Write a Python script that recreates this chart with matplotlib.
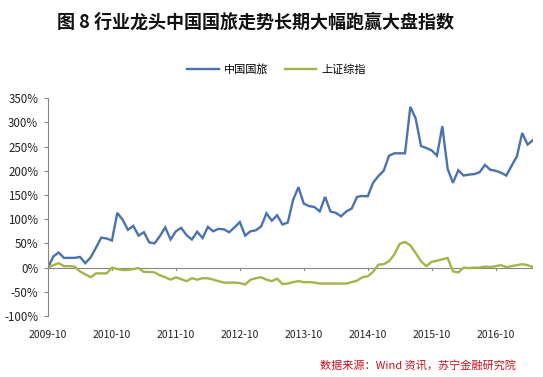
import numpy as np
import matplotlib
matplotlib.use('Agg')
import matplotlib.pyplot as plt
from matplotlib.ticker import FuncFormatter

plt.rcParams['font.family'] = ['Noto Sans CJK SC', 'DejaVu Sans']

# monthly cumulative returns (%), 2009-10 .. 2017-05
cits = [0, 23, 31, 20, 20, 20, 22, 9, 21, 41, 62, 60, 56, 113, 99, 78, 86, 66, 73, 52,
        50, 65, 83, 58, 75, 82, 67, 58, 74, 61, 84, 75, 80, 79, 73, 83, 94, 66, 75, 77,
        85, 112, 97, 108, 89, 93, 140, 166, 132, 127, 125, 116, 146, 116, 113, 106, 116, 122, 146, 148,
        147, 175, 189, 200, 231, 236, 236, 236, 332, 308, 251, 247, 242, 231, 292, 204, 175, 201, 190, 192,
        193, 197, 212, 202, 200, 196, 190, 210, 230, 278, 254, 263]
shci = [0, 5, 9, 3, 3, 2, -8, -14, -20, -12, -12, -12, 0, -3, -5, -5, -3, -1, -9, -9,
        -10, -16, -20, -25, -20, -24, -28, -22, -25, -22, -22, -25, -28, -31, -31, -31, -32, -35, -25, -22,
        -20, -25, -28, -23, -34, -33, -30, -28, -30, -30, -31, -33, -33, -33, -33, -33, -33, -30, -27, -20,
        -18, -9, 6, 7, 13, 27, 49, 53, 46, 30, 13, 3, 12, 14, 17, 20, -8, -10, 0, -1,
        0, 0, 2, 1, 3, 5, 1, 3, 5, 7, 5, 1]
year_labels = ['2009-10', '2010-10', '2011-10', '2012-10', '2013-10', '2014-10', '2015-10', '2016-10']

months = np.arange(len(cits))

fig = plt.figure(figsize=(5.43, 3.77), dpi=100)
ax = fig.add_axes([0.0884, 0.1618, 0.893, 0.578])

ax.plot(months, cits, color='#4a72b0', lw=1.7, label='中国国旅', solid_joinstyle='miter')
ax.plot(months, shci, color='#a2b548', lw=1.7, label='上证综指')

ax.set_xlim(0, len(cits) - 1)
ax.set_ylim(-100, 350)
ax.set_yticks(np.arange(-100, 351, 50))
ax.yaxis.set_major_formatter(FuncFormatter(lambda v, p: f'{v:.0f}%'))

# horizontal category axis at 0 with tick marks, labels at bottom
ax.axhline(0, color='#868686', lw=0.8, zorder=1)
xt = np.arange(0, len(cits), 12)
for x in xt[1:]:
    ax.plot([x, x], [0, -4], color='#868686', lw=0.8, zorder=1)
ax.set_xticks(xt)
ax.set_xticklabels(year_labels)
ax.tick_params(axis='x', length=0, pad=10, labelsize=7.5, colors='#222222')
ax.tick_params(axis='y', length=3, direction='out', labelsize=8.3, colors='#222222', pad=4)
ax.tick_params(axis='y', color='#868686')

for s in ['top', 'right', 'bottom']:
    ax.spines[s].set_visible(False)
ax.spines['left'].set_color('#868686')
ax.spines['left'].set_linewidth(0.8)

leg = fig.legend(loc='center', bbox_to_anchor=(0.51, 0.815), ncol=2, frameon=False,
                 fontsize=8, handlelength=2.8, columnspacing=1.5, handletextpad=0.5)

fig.text(0.47, 0.94, '图 8 行业龙头中国国旅走势长期大幅跑赢大盘指数', ha='center', va='center',
         fontsize=13, fontweight='bold', color='#111111')
fig.text(0.95, 0.032, '数据来源：Wind 资讯，苏宁金融研究院', ha='right', va='center',
         fontsize=8, color='#d0101a', style='italic')

fig.savefig('out.png', dpi=100)
